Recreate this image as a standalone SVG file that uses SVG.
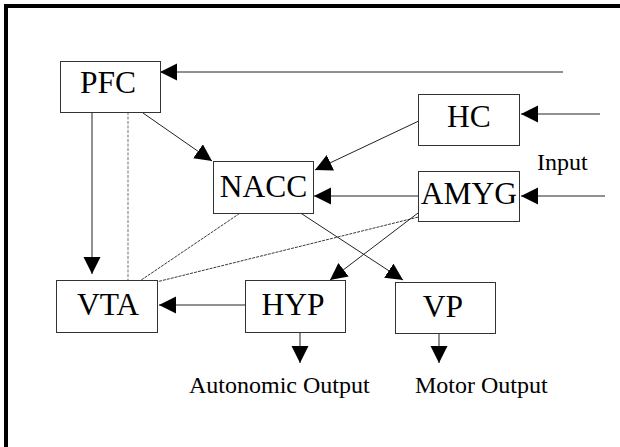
<svg xmlns="http://www.w3.org/2000/svg" width="620" height="447" viewBox="0 0 620 447">
<style>
.box{fill:#fff;stroke:#333;stroke-width:1}
.nt{font-family:"Liberation Serif","Times New Roman",serif;font-size:31.5px;fill:#000;text-anchor:middle}
.lt{font-family:"Liberation Serif","Times New Roman",serif;font-size:24px;fill:#000}
.ln{stroke:#222;stroke-width:1;fill:none}
.arr{marker-end:url(#ah)}
.dash{stroke:#222;stroke-width:0.9;stroke-dasharray:3,1;fill:none}
.gdash{stroke:#888;stroke-width:1.2;stroke-dasharray:3,1.5;fill:none}
</style>
<defs>
<marker id="ah" markerUnits="userSpaceOnUse" markerWidth="18" markerHeight="18" refX="17" refY="8.5" orient="auto">
<path d="M0,0 L17,8.5 L0,17 z" fill="#000"/>
</marker>
</defs>
<rect width="620" height="447" fill="#fff"/>
<path d="M6,447 V6 H620" stroke="#000" stroke-width="4" fill="none"/>
<g id="connectors">
<line class="ln arr" x1="563" y1="72" x2="160" y2="72"/>
<line class="ln arr" x1="600" y1="114" x2="521" y2="114"/>
<line class="ln arr" x1="605" y1="196" x2="521" y2="196"/>
<line class="ln arr" x1="418" y1="196" x2="314" y2="196"/>
<line class="ln arr" x1="423" y1="119" x2="315" y2="170"/>
<line class="ln arr" x1="143" y1="113" x2="212" y2="161"/>
<line class="ln arr" x1="92" y1="112" x2="92" y2="274"/>
<line class="ln arr" x1="245" y1="305" x2="159" y2="305"/>
<line class="ln arr" x1="300" y1="332" x2="300" y2="363"/>
<line class="ln arr" x1="439" y1="334" x2="439" y2="363"/>
<line class="ln arr" x1="418" y1="213" x2="330" y2="280"/>
<line class="ln arr" x1="299" y1="212" x2="403" y2="280"/>
<line class="gdash" x1="128" y1="103" x2="128" y2="289"/>
<line class="dash" x1="128" y1="289" x2="258" y2="201"/>
<line class="dash" x1="128" y1="289" x2="467" y2="205"/>
</g>
<g id="PFC"><rect class="box" x="60.5" y="61.5" width="100" height="51"/><text class="nt" x="108" y="93">PFC</text></g>
<g id="HC"><rect class="box" x="418.5" y="94.5" width="101" height="51"/><text class="nt" x="469" y="126.5">HC</text></g>
<g id="NACC"><rect class="box" x="213.5" y="161.5" width="100" height="52"/><text class="nt" x="263.5" y="196.5">NACC</text></g>
<g id="AMYG"><rect class="box" x="418.5" y="171.5" width="101" height="50"/><text class="nt" x="469" y="203.5">AMYG</text></g>
<g id="VTA"><rect class="box" x="56.5" y="280.5" width="101" height="52"/><text class="nt" x="108" y="315">VTA</text></g>
<g id="HYP"><rect class="box" x="245.5" y="280.5" width="100" height="52"/><text class="nt" x="293" y="315">HYP</text></g>
<g id="VP"><rect class="box" x="395.5" y="282.5" width="100" height="51"/><text class="nt" x="443" y="316.5">VP</text></g>
<g id="labels">
<text class="lt" x="537" y="170">Input</text>
<text class="lt" x="189" y="393">Autonomic Output</text>
<text class="lt" x="415" y="393">Motor Output</text>
</g>
</svg>
